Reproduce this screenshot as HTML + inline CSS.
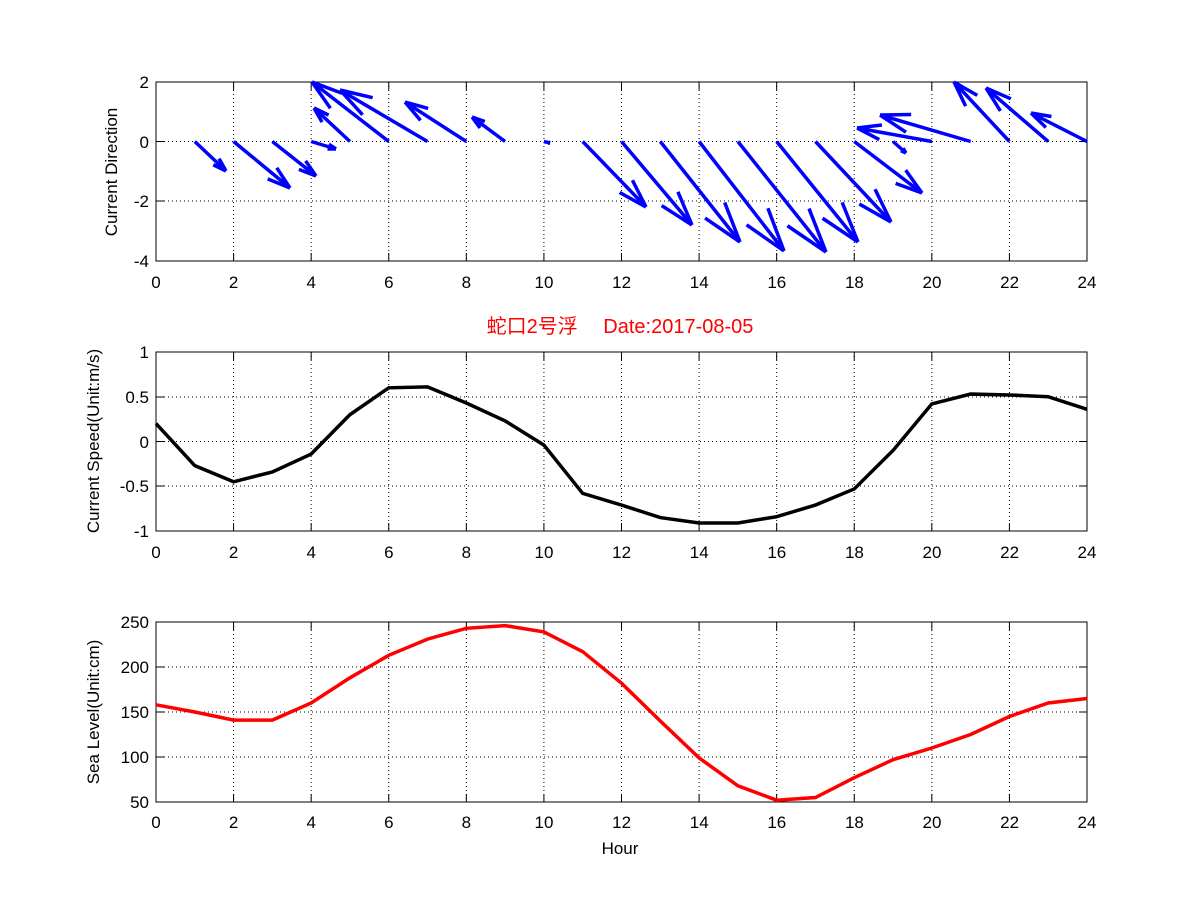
<!DOCTYPE html>
<html><head><meta charset="utf-8"><style>
body{margin:0;background:#fff}
svg text{font-family:"Liberation Sans","Noto Sans CJK SC",sans-serif;font-size:17px;fill:#000}
</style></head><body>
<svg id="s" width="1201" height="901" xmlns="http://www.w3.org/2000/svg">
<rect width="1201" height="901" fill="#fff"/>
<g id="g"></g>
<g text-anchor="middle">
<text x="156" y="288">0</text><text x="233.6" y="288">2</text><text x="311.2" y="288">4</text><text x="388.8" y="288">6</text><text x="466.4" y="288">8</text><text x="544" y="288">10</text><text x="621.6" y="288">12</text><text x="699.2" y="288">14</text><text x="776.8" y="288">16</text><text x="854.4" y="288">18</text><text x="932" y="288">20</text><text x="1009.6" y="288">22</text><text x="1087" y="288">24</text>
<text x="156" y="558">0</text><text x="233.6" y="558">2</text><text x="311.2" y="558">4</text><text x="388.8" y="558">6</text><text x="466.4" y="558">8</text><text x="544" y="558">10</text><text x="621.6" y="558">12</text><text x="699.2" y="558">14</text><text x="776.8" y="558">16</text><text x="854.4" y="558">18</text><text x="932" y="558">20</text><text x="1009.6" y="558">22</text><text x="1087" y="558">24</text>
<text x="156" y="828">0</text><text x="233.6" y="828">2</text><text x="311.2" y="828">4</text><text x="388.8" y="828">6</text><text x="466.4" y="828">8</text><text x="544" y="828">10</text><text x="621.6" y="828">12</text><text x="699.2" y="828">14</text><text x="776.8" y="828">16</text><text x="854.4" y="828">18</text><text x="932" y="828">20</text><text x="1009.6" y="828">22</text><text x="1087" y="828">24</text>
<text x="620" y="854">Hour</text>
<text x="620" y="333" style="fill:#f00;font-size:20px">蛇口2号浮　 Date:2017-08-05</text>
</g>
<g text-anchor="end">
<text x="149" y="88">2</text><text x="149" y="148">0</text><text x="149" y="207">-2</text><text x="149" y="267">-4</text>
<text x="149" y="358">1</text><text x="149" y="403">0.5</text><text x="149" y="448">0</text><text x="149" y="492">-0.5</text><text x="149" y="537">-1</text>
<text x="149" y="628">250</text><text x="149" y="673">200</text><text x="149" y="718">150</text><text x="149" y="763">100</text><text x="149" y="808">50</text>
</g>
<g text-anchor="middle">
<text transform="translate(117,172) rotate(-90)">Current Direction</text>
<text transform="translate(99,441) rotate(-90)">Current Speed(Unit:m/s)</text>
<text transform="translate(99,712) rotate(-90)">Sea Level(Unit:cm)</text>
</g>
</svg>
<script>
var NS="http://www.w3.org/2000/svg",g=document.getElementById('g');
function el(t,a){var e=document.createElementNS(NS,t);for(var k in a)e.setAttribute(k,a[k]);g.appendChild(e);return e;}
var X0=156,X1=1087,dx=(X1-X0)/24;
function X(h){return X0+h*dx;}
var boxes=[[82,261,[82,141.5,201,261]],[352,531,[352,397,441.5,486,531]],[622,802,[622,667,712,757,802]]];
boxes.forEach(function(b){
 for(var k=2;k<24;k+=2)el('line',{x1:X(k),x2:X(k),y1:b[0],y2:b[1],stroke:'#000','stroke-dasharray':'1,3','stroke-width':1});
 b[2].forEach(function(y,i){if(i>0&&i<b[2].length-1)el('line',{x1:X0,x2:X1,y1:y,y2:y,stroke:'#000','stroke-dasharray':'1,3','stroke-width':1});
  el('line',{x1:X0,x2:X0+8,y1:y,y2:y,stroke:'#000'});el('line',{x1:X1,x2:X1-8,y1:y,y2:y,stroke:'#000'});});
 for(var k=0;k<=24;k+=2){el('line',{x1:X(k),x2:X(k),y1:b[1],y2:b[1]-8,stroke:'#000'});el('line',{x1:X(k),x2:X(k),y1:b[0],y2:b[0]+8,stroke:'#000'});}
 el('rect',{x:X0,y:b[0],width:X1-X0,height:b[1]-b[0],fill:'none',stroke:'#000'});
});
var tips=[[1,226,171],[2,290,188],[3,316,176],[4,336,149],[5,314,108],[6,312,82],[7,340,90],[8,405,102],[9,472,117],[10,550,143],[11,646,207],[12,692,225],[13,740,242],[14,784,251],[15,826,252],[16,858,242],[17,891,222],[18,922,193],[19,906,153],[20,857,128],[21,880,115],[22,954,82],[23,986,88],[24,1031,113]];
tips.forEach(function(t){var x0=X(t[0]),y0=141.5,x1=t[1],y1=t[2];var vx=x1-x0,vy=y1-y0,L=Math.hypot(vx,vy);if(L<1)return;
 var d='M'+x0+','+y0+'L'+x1+','+y1;
 var a=Math.atan2(vy,vx),hl=L*0.33;
 [0.3,-0.3].forEach(function(o){d+='M'+x1+','+y1+'L'+(x1-hl*Math.cos(a+o))+','+(y1-hl*Math.sin(a+o));});
 el('path',{d:d,stroke:'#00f','stroke-width':3.5,fill:'none'});});
var sp=[0.2,-0.27,-0.45,-0.34,-0.14,0.3,0.6,0.61,0.43,0.23,-0.04,-0.58,-0.71,-0.85,-0.91,-0.91,-0.84,-0.71,-0.53,-0.1,0.42,0.53,0.52,0.5,0.36];
el('polyline',{points:sp.map(function(v,i){return X(i)+','+(441.5-v*89.5)}).join(' '),fill:'none',stroke:'#000','stroke-width':3.5});
var sl=[158,150,141,141,160,188,213,231,243,246,239,217,182,140,99,68,52,55,77,97,110,125,145,160,165];
el('polyline',{points:sl.map(function(v,i){return X(i)+','+(802-(v-50)*0.9)}).join(' '),fill:'none',stroke:'#f00','stroke-width':3.5});
</script>
</body></html>
